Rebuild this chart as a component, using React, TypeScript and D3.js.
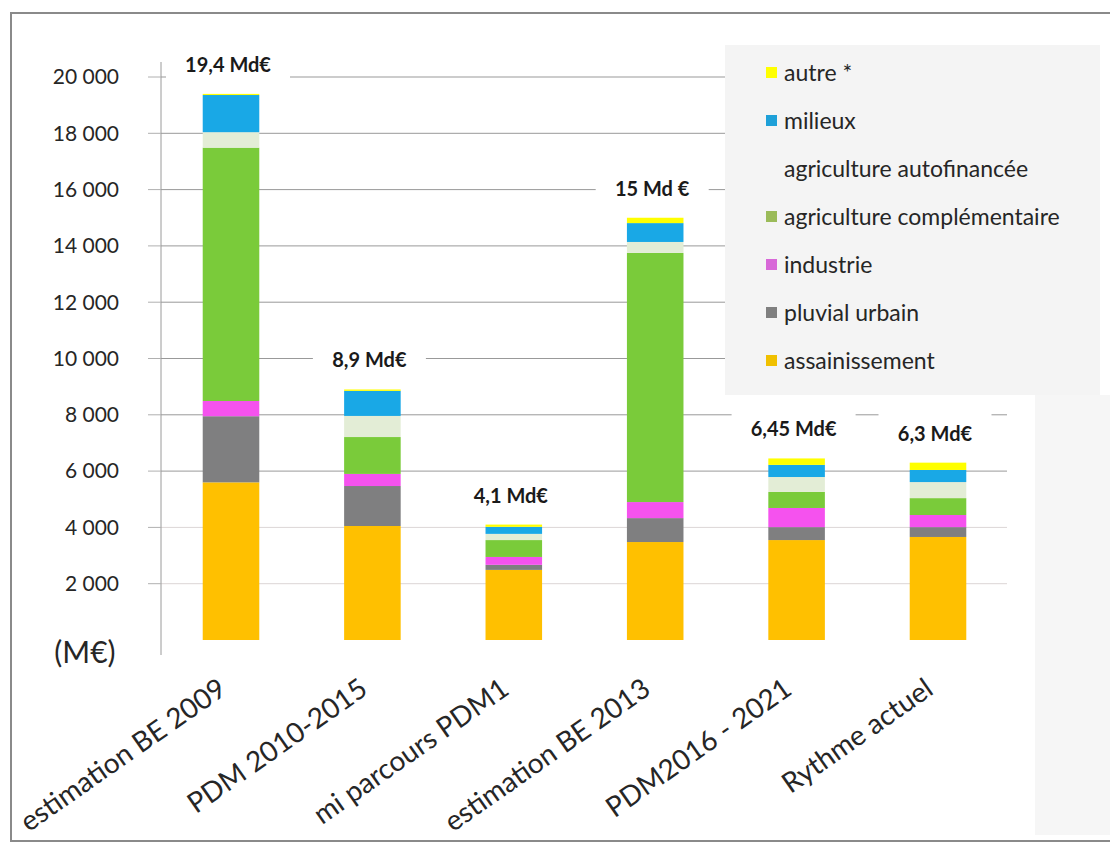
import * as d3 from 'd3';
import * as React from 'react';

const categories = [
  'estimation BE 2009',
  'PDM 2010-2015',
  'mi parcours PDM1',
  'estimation BE 2013',
  'PDM2016 - 2021',
  'Rythme actuel',
];

// M€ per category, bottom to top of each stack
const assainissement = [5600, 4050, 2490, 3480, 3550, 3660];
const pluvialUrbain = [2350, 1420, 180, 850, 460, 350];
const industrie = [540, 430, 280, 570, 680, 430];
const agriComplementaire = [9000, 1310, 600, 8850, 570, 600];
const agriAutofinancee = [550, 750, 220, 390, 530, 570];
const milieux = [1320, 890, 250, 670, 430, 430];
const autre = [40, 50, 80, 190, 230, 260];

const totalLabels = ['19,4 Md€', '8,9 Md€', '4,1 Md€', '15 Md €', '6,45 Md€', '6,3 Md€'];

const seriesKeys = ['assainissement', 'pluvial', 'industrie', 'agriComp', 'agriAuto', 'milieux', 'autre'];
const seriesNames = [
  'assainissement',
  'pluvial urbain',
  'industrie',
  'agriculture complémentaire',
  'agriculture autofinancée',
  'milieux',
  'autre *',
];
const barColors = ['#ffc000', '#7f7f80', '#f552ee', '#7acb3a', '#e3edd6', '#19a8e6', '#ffff00'];
const legendColors = ['#f0c000', '#7f7f7f', '#d868d8', '#9bbb59', 'none', '#1ea0d8', '#ffff00'];

const yTickValues = [2000, 4000, 6000, 8000, 10000, 12000, 14000, 16000, 18000, 20000];

const fr = d3.formatLocale({ decimal: ',', thousands: ' ', grouping: [3], currency: ['', ' €'] });
const fmt = fr.format(',');

const FONT = 'Lato, "Open Sans", sans-serif';

interface Row {
  cat: string;
  [key: string]: any;
}

const App = () => {
  const width = 1110;
  const height = 845;

  const table: Row[] = categories.map((c, i) => ({
    cat: c,
    assainissement: assainissement[i],
    pluvial: pluvialUrbain[i],
    industrie: industrie[i],
    agriComp: agriComplementaire[i],
    agriAuto: agriAutofinancee[i],
    milieux: milieux[i],
    autre: autre[i],
  }));

  const stacked = d3.stack<Row>().keys(seriesKeys)(table);
  const totals = table.map((r) => d3.sum(seriesKeys, (k) => r[k]));

  const x = d3.scalePoint<string>().domain(categories).range([231, 938]);
  const barW = x.step() * 0.4;
  const y = d3.scaleLinear().domain([0, 20000]).range([640, 77]);

  const axisX = 161;
  const gridRight = 1007;

  return (
    <svg width={width} height={height} style={{ position: 'absolute', left: 0, top: 0, background: '#fff' }}>
      {/* outer frame and faint grey zones */}
      <rect x={11} y={13} width={1110} height={828} fill='#fff' stroke='#8a8a8a' strokeWidth={2} />
      <rect x={1035} y={395} width={75} height={440} fill='#f6f6f6' />

      {/* gridlines */}
      {yTickValues.map((t) => (
        <line
          key={'g' + t}
          x1={axisX}
          x2={gridRight}
          y1={y(t)}
          y2={y(t)}
          stroke={t <= 4000 ? '#dcd6d6' : '#999'}
          strokeWidth={1}
        />
      ))}

      {/* legend box */}
      <rect x={725} y={45} width={375} height={350} fill='#f4f4f4' />
      {seriesKeys.map((k, i) => {
        const row = seriesKeys.length - 1 - i;
        const ly = 73 + row * 48;
        return (
          <g key={'l' + k}>
            {legendColors[i] !== 'none' && (
              <rect x={766} y={ly - 6} width={11} height={11} fill={legendColors[i]} />
            )}
            <text x={784} y={ly} dy='0.35em' fontFamily={FONT} fontSize={23} fill='#262626'>
              {seriesNames[i]}
            </text>
          </g>
        );
      })}

      {/* y axis */}
      <line x1={axisX} x2={axisX} y1={62} y2={655} stroke='#9a9a9a' strokeWidth={1} />
      {yTickValues.map((t) => (
        <g key={'t' + t}>
          <line x1={148} x2={axisX} y1={y(t)} y2={y(t)} stroke='#b0b0b0' />
          <text
            x={119}
            y={y(t)}
            dy='0.35em'
            textAnchor='end'
            fontFamily={FONT}
            fontSize={21}
            fill='#262626'
          >
            {fmt(t)}
          </text>
        </g>
      ))}
      <text x={85} y={652} dy='0.35em' textAnchor='middle' fontFamily={FONT} fontSize={30} fill='#262626'>
        (M€)
      </text>

      {/* total labels with white boxes */}
      {categories.map((c, i) => {
        const cx = (x(c) as number) - 3;
        const cy = y(totals[i]) - 29;
        const w = totalLabels[i].length * 11;
        return (
          <g key={'lab' + c}>
            <rect x={cx - w / 2 - 18} y={cy - 21} width={w + 36} height={40} fill='#fff' />
            <text
              x={cx}
              y={cy}
              dy='0.35em'
              textAnchor='middle'
              fontFamily={FONT}
              fontWeight='bold'
              fontSize={20}
              fill='#1a1a1a'
            >
              {totalLabels[i]}
            </text>
          </g>
        );
      })}

      {/* stacked bars */}
      {stacked.map((s, si) => (
        <g key={s.key} fill={barColors[si]}>
          {s.map((d, i) => (
            <rect
              key={i}
              x={(x(d.data.cat) as number) - barW / 2}
              y={y(d[1])}
              width={barW}
              height={Math.max(0, y(d[0]) - y(d[1]))}
            />
          ))}
        </g>
      ))}

      {/* category labels */}
      {categories.map((c) => (
        <text
          key={'c' + c}
          transform={`translate(${(x(c) as number) - 3}, 693) rotate(-35)`}
          textAnchor='end'
          fontFamily={FONT}
          fontSize={28}
          fill='#262626'
        >
          {c}
        </text>
      ))}
    </svg>
  );
};

export default App;
